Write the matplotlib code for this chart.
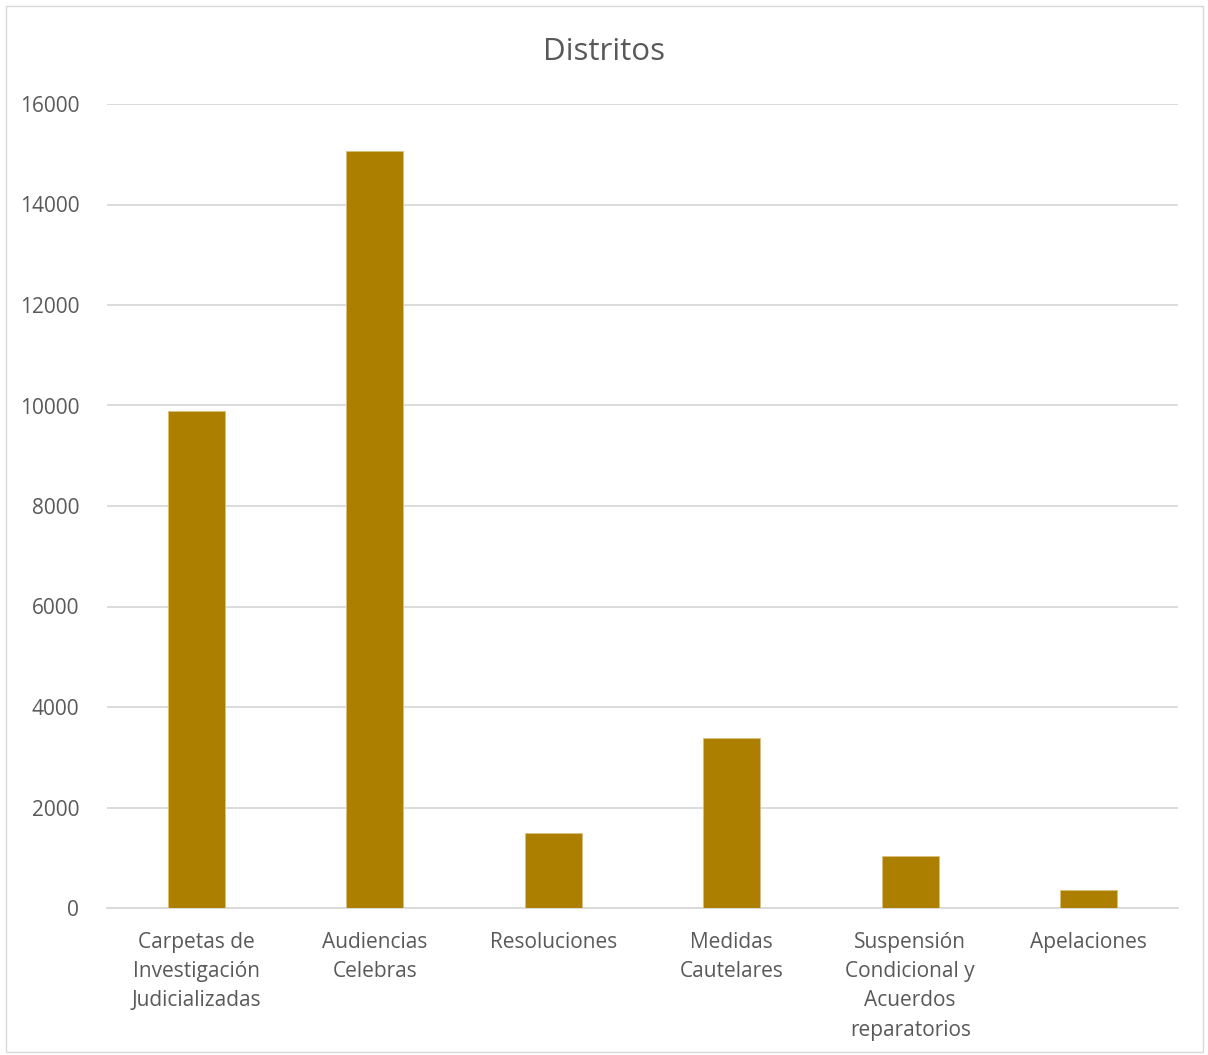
import matplotlib
matplotlib.use("Agg")
import matplotlib.pyplot as plt
from matplotlib.patches import Rectangle

categories = [
    "Carpetas de\nInvestigación\nJudicializadas",
    "Audiencias\nCelebras",
    "Resoluciones",
    "Medidas\nCautelares",
    "Suspensión\nCondicional y\nAcuerdos\nreparatorios",
    "Apelaciones",
]
values = [9900, 15060, 1500, 3380, 1030, 350]
yticks = [0, 2000, 4000, 6000, 8000, 10000, 12000, 14000, 16000]
title = "Distritos"

plt.rcParams['font.family'] = ['Open Sans', 'DejaVu Sans']
text_color = "#595959"
grid_color = "#D9D9D9"
bar_color = "#AD7F00"

fig = plt.figure(figsize=(12.08, 10.55), dpi=100)
fig.patch.set_facecolor("white")
fig.patches.append(Rectangle((6/1208, 3/1055), 1197/1208, 1046/1055, transform=fig.transFigure,
                             fill=False, edgecolor=grid_color, linewidth=1.0))

ax = fig.add_axes([107/1208, 1 - 908/1055, (1178-107)/1208, (908-104)/1055])
x = list(range(len(categories)))
ax.bar(x, values, width=0.32, color=bar_color, edgecolor="#D9C07A", linewidth=0.6, zorder=3)
ax.set_xlim(-0.5, len(categories) - 0.5)
ax.set_ylim(0, 16000)
ax.set_yticks(yticks)
ax.set_yticklabels([str(v) for v in yticks])
ax.set_xticks(x)
ax.set_xticklabels(categories, linespacing=1.52, va="top")
ax.tick_params(axis="both", length=0, colors=text_color, labelsize=15)
ax.tick_params(axis="x", pad=17)
ax.tick_params(axis="y", pad=20)
for lbl in ax.get_yticklabels() + ax.get_xticklabels():
    lbl.set_color(text_color)
ax.yaxis.grid(True, color=grid_color, linewidth=1.3, zorder=0)
ax.set_axisbelow(True)
for s in ["top", "right", "left"]:
    ax.spines[s].set_visible(False)
ax.spines["bottom"].set_color(grid_color)
ax.spines["bottom"].set_linewidth(1.3)

fig.text(0.5, 1 - 52/1055, title, ha="center", va="center", fontsize=22.5, color=text_color)

fig.savefig("out.png", dpi=100, facecolor="white")
